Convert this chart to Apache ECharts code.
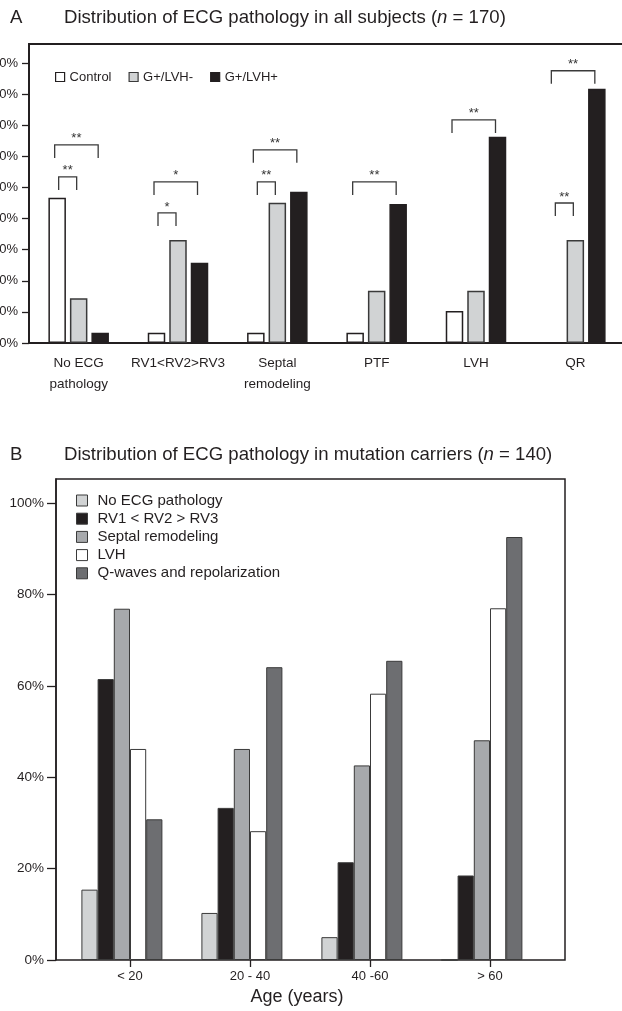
<!DOCTYPE html>
<html><head><meta charset="utf-8">
<script src="https://cdn.jsdelivr.net/npm/echarts@6/dist/echarts.min.js"></script>
<style>html,body{margin:0;padding:0;background:#fff}#c{width:622px;height:1011px}</style>
</head><body><div id="c"></div>
<script>
// ---------- Panel A data (percent of subjects) ----------
const categoriesA = ['No ECG\npathology', 'RV1<RV2>RV3', 'Septal\nremodeling', 'PTF', 'LVH', 'QR'];
const controlA = [46.7, 3.3, 3.3, 3.3, 10.3, 0];
const gPosLvhNegA = [14.4, 33.1, 45.1, 16.8, 16.8, 33.1];
const gPosLvhPosA = [3.3, 25.8, 48.6, 44.7, 66.3, 81.7];
const ticksA = [0, 10, 20, 30, 40, 50, 60, 70, 80, 90];
// significance brackets: category, level (%), first bar, last bar, label
const bracketCat = [0, 0, 1, 1, 2, 2, 3, 4, 5, 5];
const bracketLevel = [63.7, 53.4, 51.8, 41.8, 62.1, 51.8, 51.8, 71.7, 87.5, 45.0];
const bracketFrom = [0, 0, 0, 0, 0, 0, 0, 0, 0, 0];
const bracketTo = [2, 1, 2, 1, 2, 1, 2, 2, 2, 1];
const bracketLabel = ['**', '**', '*', '*', '**', '**', '**', '**', '**', '**'];

// ---------- Panel B data (percent of mutation carriers) ----------
const agesB = ['< 20', '20 - 40', '40 -60', '> 60'];
const noEcgB = [15.4, 10.3, 5.0, 0];
const rvB = [61.5, 33.3, 21.4, 18.5];
const septalB = [76.9, 46.2, 42.6, 48.1];
const lvhB = [46.2, 28.2, 58.3, 77.0];
const qWavesB = [30.8, 64.1, 65.5, 92.6];
const ticksB = [0, 20, 40, 60, 80, 100];

// ---------- styles ----------
const FONT = 'Liberation Sans, Arial, Helvetica, sans-serif';
const INK = '#231f20';
const EDGE = '#3a3a3a';
const BAR_W_A = 17.5, BAR_GAP_A = 4;
const LEG = 4.2; // bracket leg length in % units

const chart = echarts.init(document.getElementById('c'), null, {renderer: 'canvas'});

function titleRich(main, n) {
  return '{a|' + main + ' (}{i|n}{a| = ' + n + ')}';
}
const titleRichStyle = {
  a: {fontSize: 18.6, fontFamily: FONT, color: INK, fontWeight: 'normal'},
  i: {fontSize: 18.6, fontFamily: FONT, color: INK, fontWeight: 'normal', fontStyle: 'italic'}
};
const plainTitle = {fontSize: 18.6, fontWeight: 'normal', fontFamily: FONT, color: INK};

const barA = (name, data, color, border) => ({
  type: 'bar', name, data, xAxisIndex: 0, yAxisIndex: 0,
  barWidth: BAR_W_A, barGap: (BAR_GAP_A / BAR_W_A * 100) + '%',
  itemStyle: {color, borderColor: border, borderWidth: 1.5},
  silent: true
});
const barB = (name, data, color) => ({
  type: 'bar', name, data, xAxisIndex: 2, yAxisIndex: 2,
  barWidth: 16.2, barGap: '0%',
  itemStyle: {color, borderColor: EDGE, borderWidth: 1},
  silent: true
});

const option = {
  animation: false,
  backgroundColor: '#fff',
  textStyle: {fontFamily: FONT, color: INK},
  title: [
    {text: 'A', left: 5, top: 3, textStyle: plainTitle},
    {text: titleRich('Distribution of ECG pathology in all subjects', 170), left: 59, top: 3,
     textStyle: Object.assign({rich: titleRichStyle}, plainTitle)},
    {text: 'B', left: 5, top: 440, textStyle: plainTitle},
    {text: titleRich('Distribution of ECG pathology in mutation carriers', 140), left: 59, top: 440,
     textStyle: Object.assign({rich: titleRichStyle}, plainTitle)}
  ],
  legend: [
    {
      data: ['Control', 'G+/LVH-', 'G+/LVH+'],
      orient: 'horizontal', left: 50, top: 65.5,
      icon: 'rect', itemWidth: 9, itemHeight: 9, itemGap: 17,
      itemStyle: {borderWidth: 1.2},
      textStyle: {fontSize: 13, fontFamily: FONT, color: INK},
      selectedMode: false
    },
    {
      data: ['No ECG pathology', 'RV1 < RV2 > RV3', 'Septal remodeling', 'LVH', 'Q-waves and repolarization'],
      orient: 'vertical', left: 71, top: 488,
      icon: 'rect', itemWidth: 11, itemHeight: 11, itemGap: 3.2,
      itemStyle: {borderWidth: 1},
      textStyle: {fontSize: 15, fontFamily: FONT, color: INK, padding: [0, 0, 0, 5]},
      selectedMode: false
    }
  ],
  grid: [
    {left: 29, top: 44, width: 596, height: 299, show: true, borderColor: INK, borderWidth: 1.8,
     backgroundColor: 'transparent', outerBoundsMode: 'none', containLabel: false},
    {left: 56, top: 479, width: 509, height: 481, show: true, borderColor: INK, borderWidth: 1.5,
     backgroundColor: 'transparent', outerBoundsMode: 'none', containLabel: false},
    {left: 70, top: 479, width: 480, height: 481, outerBoundsMode: 'none', containLabel: false}
  ],
  xAxis: [
    {
      gridIndex: 0, type: 'category', data: categoriesA,
      axisLine: {lineStyle: {color: INK, width: 2}},
      axisTick: {show: false},
      axisLabel: {fontSize: 13.5, fontFamily: FONT, color: INK, margin: 10, lineHeight: 21, interval: 0}
    },
    {gridIndex: 1, type: 'value', min: 0, max: 1, show: false},
    {
      gridIndex: 2, type: 'category', data: agesB,
      axisLine: {show: false},
      axisTick: {show: true, alignWithLabel: true, length: 7, lineStyle: {color: INK, width: 1.3}},
      axisLabel: {fontSize: 13, fontFamily: FONT, color: INK, margin: 10, interval: 0},
      name: 'Age (years)', nameLocation: 'middle', nameGap: 28,
      nameTextStyle: {fontSize: 18, fontFamily: FONT, color: INK, padding: [0, 26, 0, 0]}
    }
  ],
  yAxis: [
    {
      gridIndex: 0, type: 'value', min: 0, max: 96.1,
      axisLine: {show: true, lineStyle: {color: INK, width: 1.8}},
      axisTick: {show: true, length: 7, lineStyle: {color: INK, width: 1.3}, customValues: ticksA},
      axisLabel: {formatter: '{value}%', fontSize: 13, fontFamily: FONT, color: INK, margin: 11, customValues: ticksA},
      splitLine: {show: false}
    },
    {
      gridIndex: 1, type: 'value', min: 0, max: 105.3,
      axisLine: {show: true, lineStyle: {color: INK, width: 1.5}},
      axisTick: {show: true, length: 9, lineStyle: {color: INK, width: 1.3}, customValues: ticksB},
      axisLabel: {formatter: '{value}%', fontSize: 13.5, fontFamily: FONT, color: INK, margin: 12, customValues: ticksB},
      splitLine: {show: false}
    },
    {gridIndex: 2, type: 'value', min: 0, max: 105.3, show: false, splitLine: {show: false}}
  ],
  series: [
    barA('Control', controlA, '#ffffff', INK),
    barA('G+/LVH-', gPosLvhNegA, '#d1d3d4', EDGE),
    barA('G+/LVH+', gPosLvhPosA, INK, INK),
    {
      type: 'custom', name: 'significance', xAxisIndex: 0, yAxisIndex: 0,
      silent: true, clip: false, z: 5,
      data: bracketCat.map((c, i) => [c, bracketLevel[i], bracketFrom[i], bracketTo[i]]),
      encode: {x: 0, y: 1},
      renderItem: function (params, api) {
        const i = params.dataIndex;
        const cat = api.value(0), level = api.value(1), from = api.value(2), to = api.value(3);
        const top = api.coord([cat, level]);
        const base = api.coord([cat, level - LEG]);
        const slot = BAR_W_A + BAR_GAP_A;
        const inset = (to - from === 1) ? 1.5 : -2.5;
        const x1 = top[0] + (from - 1) * slot + inset;
        const x2 = top[0] + (to - 1) * slot - 2;
        return {
          type: 'group',
          children: [
            {type: 'polyline', shape: {points: [[x1, base[1]], [x1, top[1]], [x2, top[1]], [x2, base[1]]]},
             style: {stroke: EDGE, lineWidth: 1.3, fill: null}},
            {type: 'text', style: {text: bracketLabel[i], x: (x1 + x2) / 2, y: top[1] - 6,
             align: 'center', verticalAlign: 'middle', fontSize: 13, fontFamily: FONT, fill: '#333'}}
          ]
        };
      }
    },
    barB('No ECG pathology', noEcgB, '#d1d3d4'),
    barB('RV1 < RV2 > RV3', rvB, INK),
    barB('Septal remodeling', septalB, '#a7a9ac'),
    barB('LVH', lvhB, '#ffffff'),
    barB('Q-waves and repolarization', qWavesB, '#6d6e71'),
    // empty slot: the source figure reserves a sixth (unused) bar position per age group
    {type: 'bar', name: 'spacer', data: [], xAxisIndex: 2, yAxisIndex: 2, barWidth: 16.2, barGap: '0%', silent: true}
  ]
};
chart.setOption(option);
</script>
</body></html>
